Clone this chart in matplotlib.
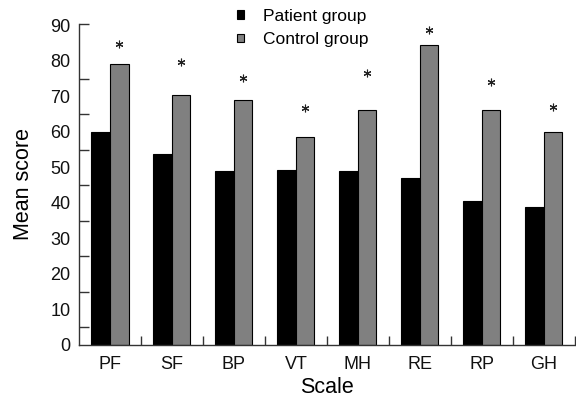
import numpy as np
import matplotlib
matplotlib.use('Agg')
import matplotlib.pyplot as plt

plt.rcParams['font.family'] = ['Liberation Sans', 'DejaVu Sans']

scales = ['PF', 'SF', 'BP', 'VT', 'MH', 'RE', 'RP', 'GH']
patient = [59.9, 53.8, 48.9, 49.2, 49.0, 47.1, 40.4, 38.8]
control = [79.2, 70.5, 68.9, 58.7, 66.1, 84.5, 66.1, 59.9]
# height of the significance asterisk above each pair
star_y = [84.8, 79.7, 75.2, 66.8, 76.6, 88.7, 74.1, 67.0]

fig = plt.figure(figsize=(5.76, 4.01), dpi=100)
ax = fig.add_axes([0.137, 0.14, 0.861, 0.80])

x = np.arange(len(scales))
w = 0.3
ax.bar(x - w / 2, patient, w, color='black', edgecolor='black', linewidth=0.8,
       label='Patient group')
ax.bar(x + w / 2, control, w, color='#808080', edgecolor='black', linewidth=0.8,
       label='Control group')
ax.plot(x + w / 2, star_y, ls='none', marker=(6, 2, 0), ms=5.5, mew=0.8, color='#222222')

ax.set_xlim(-0.5, 7.5)
ax.set_ylim(0, 90.4)

for s in ['top', 'right']:
    ax.spines[s].set_visible(False)
for s in ['left', 'bottom']:
    ax.spines[s].set_color('#333333')
    ax.spines[s].set_linewidth(1.0)

ax.set_yticks(range(0, 100, 10))
ax.set_yticks(list(range(5, 80, 10)) + [90.4], minor=True)
ax.set_xticks(x)
ax.set_xticklabels(scales)
ax.set_xticks(np.arange(0.5, 8, 1), minor=True)
ax.tick_params(which='major', length=0, labelsize=13, colors='#111111')
ax.tick_params(axis='y', which='major', pad=6)
ax.tick_params(axis='x', which='major', pad=8)
ax.tick_params(which='minor', direction='in', color='#333333', width=1.0)
ax.tick_params(axis='y', which='minor', length=7.2)
ax.tick_params(axis='x', which='minor', length=6.5)

ax.set_ylabel('Mean score', fontsize=15.5, labelpad=12)
ax.set_xlabel('Scale', fontsize=15.5, labelpad=3)

ax.legend(loc='upper left', bbox_to_anchor=(0.305, 1.07), frameon=False,
          fontsize=12.5, handlelength=0.4, handleheight=0.4, handletextpad=1.1,
          labelspacing=0.5, borderaxespad=0)

fig.savefig('out.png', dpi=100)
